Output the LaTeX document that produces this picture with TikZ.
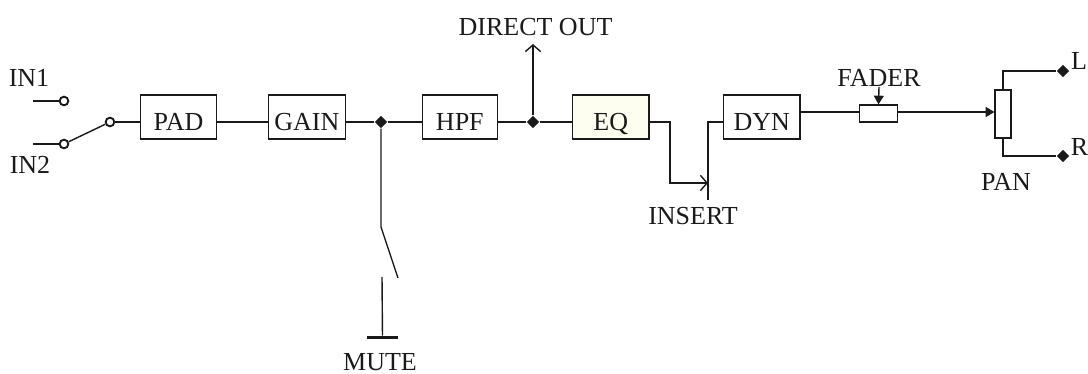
\documentclass[tikz,border=0pt]{standalone}
\usepackage{fontspec}
\setmainfont{Liberation Serif}
\usetikzlibrary{arrows.meta,positioning,shapes.geometric}
\definecolor{ink}{HTML}{1A1A1A}
\definecolor{eqfill}{HTML}{FDFDF0}
\tikzset{
  block/.style={draw=ink,line width=0.95pt,fill=white,inner sep=0pt,minimum width=57.5pt,
    text height=26.6pt,text depth=6.4pt,font=\fontsize{19.5pt}{22pt}\selectfont,text=ink},
  slim/.style={draw=ink,line width=0.95pt,fill=white,inner sep=0pt},
  wire/.style={draw=ink,line width=1.05pt},
  label/.style={inner sep=0pt,font=\fontsize{19.5pt}{22pt}\selectfont,text=ink},
  junction/.style={diamond,fill=ink,inner sep=0pt,minimum size=9.5pt},
  terminal/.style={circle,draw=ink,line width=1.4pt,fill=white,inner sep=0pt,minimum size=6.5pt},
  openarrow/.style={wire,-{Straight Barb[length=5pt,width=11.5pt]}},
  solidarrow/.style={wire,-{Triangle[length=6.5pt,width=7.5pt]}}
}
\begin{document}
\begin{tikzpicture}[x=0.75pt,y=-0.75pt]
  \useasboundingbox (0,0) rectangle (1088,374);
  \coordinate (bus) at (0,122);
  \coordinate (level) at (0,112);
  % blocks
  \node[block] (pad) at (178.5,117) {PAD\hspace{7pt}};
  \node[block,right=37.8pt of pad] (gain) {GAIN};
  \node[block,right=56.8pt of gain,minimum width=56.5pt] (hpf) {HPF};
  \node[block,right=55.25pt of hpf,fill=eqfill] (eq) {EQ\hspace{10pt}};
  \node[block,right=54.75pt of eq] (dyn) {DYN};
  \node[slim,minimum width=29pt,minimum height=12.8pt] (fader) at (878.5,113.5) {};
  \node[slim,minimum width=12pt,minimum height=36pt] (pan) at (1003,114) {};
  % inputs
  \coordinate (inA) at (33,101);
  \coordinate (inB) at (33,144);
  \node[terminal] (swA) at (64,101) {};
  \node[terminal] (swB) at (64,144) {};
  \node[terminal] (swC) at (110,122) {};
  \node[label] (inone) at (29,78) {IN1};
  \node[label] (intwo) at (30,165) {IN2};
  \draw[wire] (inA)--(swA);
  \draw[wire] (inB)--(swB);
  \draw[wire] (swB)--(swC);
  \draw[wire] (swC)--(pad.west |- bus);
  % main line
  \node[junction] (mutejoin) at (381,122) {};
  \node[junction] (directjoin) at (533,122) {};
  \draw[wire] (pad.east |- bus)--(gain.west |- bus);
  \draw[wire] (gain.east |- bus)--(mutejoin)--(hpf.west |- bus);
  \draw[wire] (hpf.east |- bus)--(directjoin)--(eq.west |- bus);
  % direct out
  \node[label] (directout) at (535.5,27) {DIRECT OUT};
  \coordinate (directend) at (533,44);
  \draw[openarrow] (directjoin)--(directend);
  % insert
  \coordinate (sendA) at (670,122);
  \coordinate (sendB) at (670,183);
  \coordinate (insertend) at (708,183);
  \coordinate (returnA) at (708,122);
  \coordinate (returnB) at (708,200);
  \node[label] (insert) at (693,216) {INSERT};
  \draw[openarrow] (eq.east |- bus)--(sendA)--(sendB)--(insertend);
  \draw[wire] (dyn.west |- bus)--(returnA)--(returnB);
  % mute
  \coordinate (muteA) at (381,227);
  \coordinate (muteB) at (398,278);
  \coordinate (groundtop) at (382,277);
  \node[fill=ink,inner sep=0pt,minimum width=23pt,minimum height=2.6pt] (groundbar) at (382.5,337.5) {};
  \node[label] (mute) at (380,362.5) {MUTE};
  \draw[wire] (mutejoin)--(muteA)--(muteB);
  \draw[wire] (groundtop)--(groundbar);
  % fader and pan
  \node[label] (faderlabel) at (879,78) {FADER};
  \node[label] (panlabel) at (1006,182) {PAN};
  \draw[wire] (dyn.east |- level)--(fader.west |- level);
  \draw[solidarrow] (faderlabel.south)--(fader.north);
  \draw[solidarrow] (fader.east |- level)--(pan.west |- level);
  % outputs
  \node[junction] (outL) at (1063,71) {};
  \node[junction] (outR) at (1063,156) {};
  \node[label] (left) at (1079,61) {L};
  \node[label] (right) at (1079.5,147) {R};
  \draw[wire] (pan.north) |- (outL);
  \draw[wire] (pan.south) |- (outR);
\end{tikzpicture}
\end{document}
